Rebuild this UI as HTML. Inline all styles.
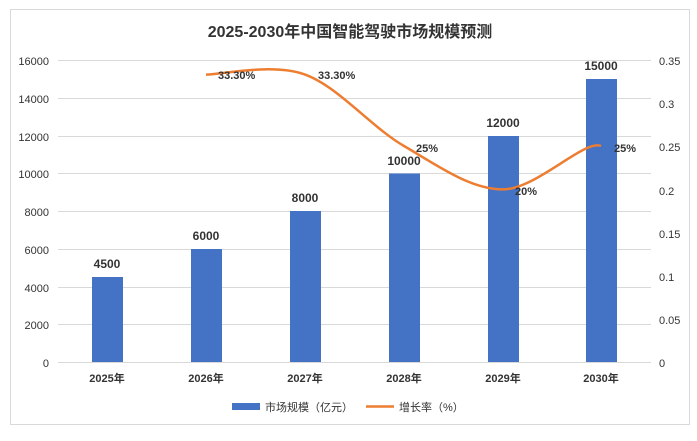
<!DOCTYPE html>
<html><head><meta charset="utf-8"><style>
html,body{margin:0;padding:0;background:#fff;}
svg text{font-family:"Liberation Sans","Noto Sans CJK SC",sans-serif;}
</style></head><body>
<svg width="697" height="436" viewBox="0 0 697 436" xmlns="http://www.w3.org/2000/svg">
<rect x="10.5" y="9.5" width="679" height="415" fill="#fff" stroke="#d9d9d9"/>
<text x="350" y="37" text-anchor="middle" font-size="16" font-weight="bold" fill="#333">2025-2030年中国智能驾驶市场规模预测</text>
<g stroke="#d9d9d9" stroke-width="1">
<line x1="58" x2="651" y1="60.5" y2="60.5"/>
<line x1="58" x2="651" y1="98.5" y2="98.5"/>
<line x1="58" x2="651" y1="136.5" y2="136.5"/>
<line x1="58" x2="651" y1="173.5" y2="173.5"/>
<line x1="58" x2="651" y1="211.5" y2="211.5"/>
<line x1="58" x2="651" y1="249.5" y2="249.5"/>
<line x1="58" x2="651" y1="287.5" y2="287.5"/>
<line x1="58" x2="651" y1="324.5" y2="324.5"/>
<line x1="58" x2="651" y1="362.5" y2="362.5"/>
</g>
<g font-size="11" fill="#333" text-anchor="end">
<text x="49" y="65">16000</text><text x="49" y="103">14000</text><text x="49" y="141">12000</text>
<text x="49" y="178">10000</text><text x="49" y="216">8000</text><text x="49" y="254">6000</text>
<text x="49" y="292">4000</text><text x="49" y="329">2000</text><text x="49" y="367">0</text>
</g>
<g font-size="11" fill="#333">
<text x="659" y="65">0.35</text><text x="659" y="108">0.3</text><text x="659" y="151">0.25</text>
<text x="659" y="195">0.2</text><text x="659" y="238">0.15</text><text x="659" y="281">0.1</text>
<text x="659" y="324">0.05</text><text x="659" y="367">0</text>
</g>
<g fill="#4472c4">
<rect x="92" y="277" width="31" height="85"/>
<rect x="191" y="249" width="31" height="113"/>
<rect x="290" y="211" width="31" height="151"/>
<rect x="389" y="173.5" width="31" height="188.5"/>
<rect x="488" y="136" width="31" height="226"/>
<rect x="586" y="79" width="31" height="283"/>
</g>
<g font-size="12" font-weight="bold" fill="#333" text-anchor="middle">
<text x="107" y="268">4500</text><text x="206" y="240">6000</text><text x="305" y="202">8000</text>
<text x="404" y="165">10000</text><text x="503" y="127">12000</text><text x="601" y="70">15000</text>
</g>
<g font-size="11" font-weight="bold" fill="#333" text-anchor="middle">
<text x="107" y="382">2025年</text><text x="206" y="382">2026年</text><text x="305" y="382">2027年</text>
<text x="404" y="382">2028年</text><text x="503" y="382">2029年</text><text x="601" y="382">2030年</text>
</g>
<path d="M206,74.6 C222.5,74.6 272,62.7 305,74.6 C338,86.5 371,126.9 404,146 C437,165.1 470,189.4 503,189.4 C536,189.4 584.7,138.8 601,146" fill="none" stroke="#ed7d31" stroke-width="2.5"/>
<g font-size="11" font-weight="bold" fill="#333">
<text x="218" y="79">33.30%</text><text x="318" y="79">33.30%</text><text x="416" y="152">25%</text>
<text x="515" y="195">20%</text><text x="614" y="152">25%</text>
</g>
<rect x="232" y="403" width="28" height="7" fill="#4472c4"/>
<text x="265" y="411" font-size="11" fill="#333">市场规模（亿元）</text>
<line x1="366" x2="394" y1="406.5" y2="406.5" stroke="#ed7d31" stroke-width="2.5"/>
<text x="399" y="411" font-size="11" fill="#333">增长率（%）</text>
</svg>
</body></html>
